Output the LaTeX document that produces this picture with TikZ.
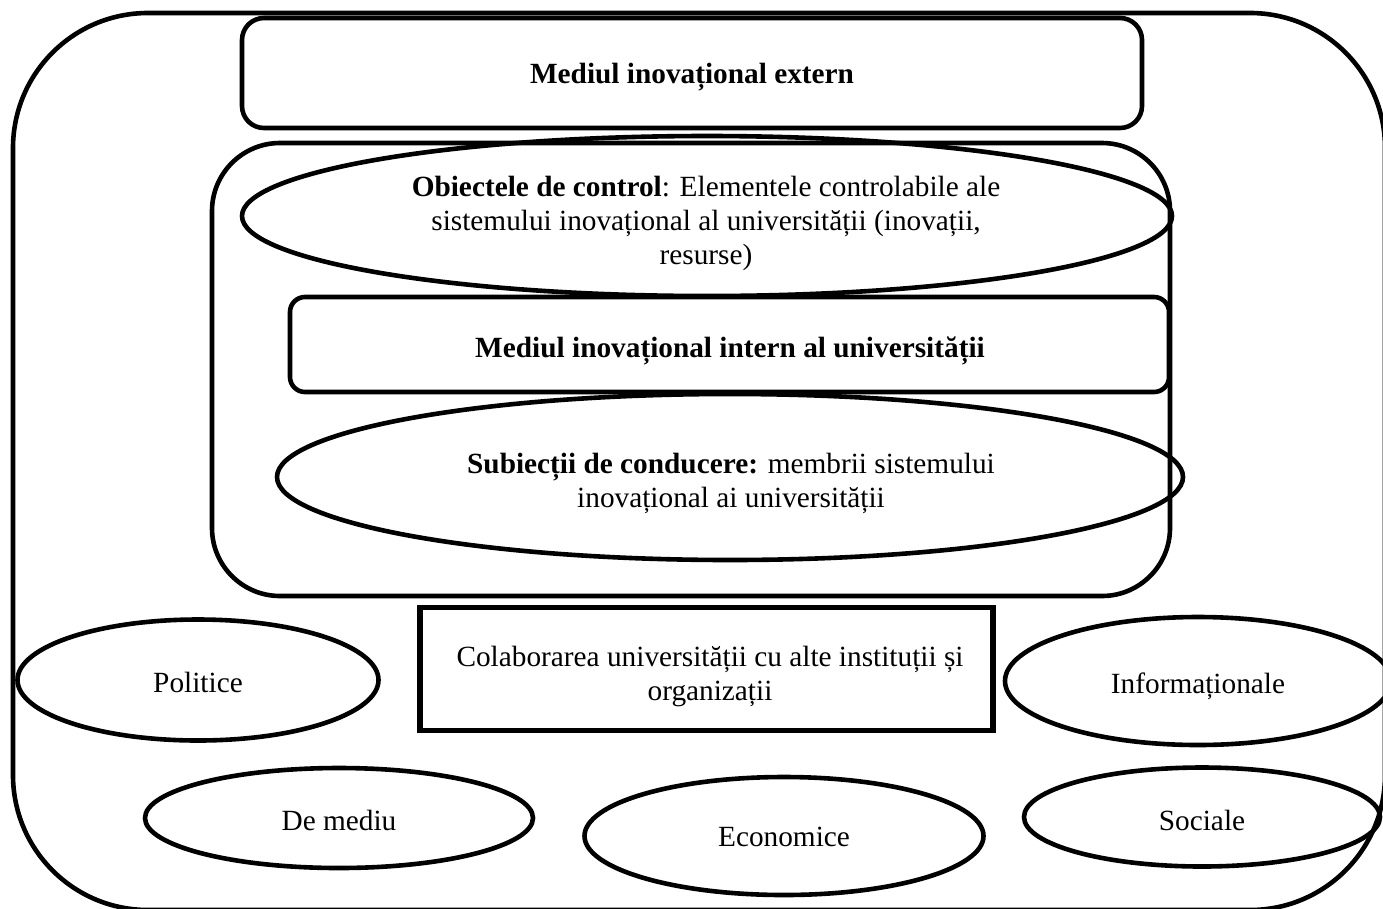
\documentclass[tikz,border=0pt]{standalone}
\usepackage{fontspec}
\setmainfont{Liberation Serif}
\usetikzlibrary{shapes.geometric}
\begin{document}
\begin{tikzpicture}[x=1pt, y=-1pt,
  txt/.style={font=\fontsize{29.3}{34}\selectfont, align=center, inner sep=0pt},
  box/.style={draw, rectangle, line width=4.6pt, rounded corners=#1, inner sep=0pt},
  box/.default=0pt,
  oval/.style={draw, ellipse, line width=4.6pt, inner sep=0pt}]
  \path[use as bounding box, clip] (0,0) rectangle (1383,908);

  % outer frame of the external environment (runs past the page edge)
  \node[box=135pt, line width=4.6pt, minimum width=1372pt, minimum height=897pt] (outer) at (699,461.5) {};

  \node[box=22pt, minimum width=900pt, minimum height=110pt] (extern) at (692,73) {};
  \node[txt] (extern-t) at (692,77) {\textbf{Mediul inovațional extern}};

  % internal environment of the university
  \node[box=68pt, minimum width=958pt, minimum height=453pt] (inner) at (691,369.5) {};

  \node[oval, minimum width=930pt, minimum height=160pt] (obiecte) at (707,216) {};
  \node[txt] (obiecte-t) at (706,223)
    {\textbf{Obiectele de control}: Elementele controlabile ale\\
     sistemului inovațional al universității (inovații,\\
     resurse)};

  \node[box=15pt, minimum width=879pt, minimum height=95pt] (intern) at (729.5,344.5) {};
  \node[txt] (intern-t) at (730,351) {\textbf{Mediul inovațional intern al universității}};

  \node[oval, minimum width=906pt, minimum height=166pt] (subiecti) at (730,477) {};
  \node[txt] (subiecti-t) at (731,483)
    {\textbf{Subiecții de conducere:} membrii sistemului\\
     inovațional ai universității};

  % collaboration and external factors
  \node[box, line width=5.5pt, minimum width=573pt, minimum height=123pt] (colab) at (706.5,669) {};
  \node[txt] (colab-t) at (710,676)
    {Colaborarea universității cu alte instituții și\\ organizații};

  \node[oval, minimum width=361pt, minimum height=121pt] (politice) at (198,680) {};
  \node[txt] at (politice) [yshift=-2pt] (politice-t) {Politice};

  \node[oval, minimum width=386pt, minimum height=128pt] (info) at (1198,681) {};
  \node[txt] (info-t) at (1198,686) {Informaționale};

  \node[oval, minimum width=388pt, minimum height=100pt] (mediu) at (339,818) {};
  \node[txt] (mediu-t) at (339,820) {De mediu};

  \node[oval, minimum width=399pt, minimum height=118pt] (econ) at (784,836) {};
  \node[txt] (econ-t) at (784,837) {Economice};

  \node[oval, minimum width=356pt, minimum height=99pt] (sociale) at (1202,817) {};
  \node[txt] (sociale-t) at (1202,820) {Sociale};
\end{tikzpicture}
\end{document}
